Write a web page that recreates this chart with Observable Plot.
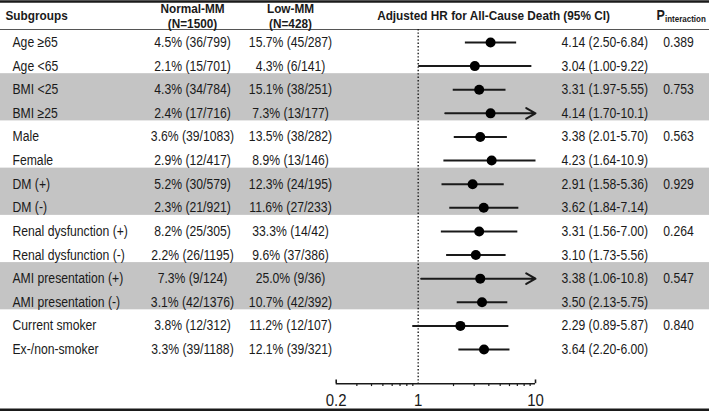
<!DOCTYPE html>
<html><head><meta charset="utf-8">
<script src="https://cdn.jsdelivr.net/npm/d3@7"></script>
<script src="https://cdn.jsdelivr.net/npm/@observablehq/plot@0.6"></script>
<style>body{margin:0;background:#fff}</style>
</head><body><div id="chart"></div>
<script>
const subgroups = ["Age ≥65","Age <65","BMI <25","BMI ≥25","Male","Female","DM (+)","DM (-)","Renal dysfunction (+)","Renal dysfunction (-)","AMI presentation (+)","AMI presentation (-)","Current smoker","Ex-/non-smoker"];
const normalMM = ["4.5% (36/799)","2.1% (15/701)","4.3% (34/784)","2.4% (17/716)","3.6% (39/1083)","2.9% (12/417)","5.2% (30/579)","2.3% (21/921)","8.2% (25/305)","2.2% (26/1195)","7.3% (9/124)","3.1% (42/1376)","3.8% (12/312)","3.3% (39/1188)"];
const lowMM = ["15.7% (45/287)","4.3% (6/141)","15.1% (38/251)","7.3% (13/177)","13.5% (38/282)","8.9% (13/146)","12.3% (24/195)","11.6% (27/233)","33.3% (14/42)","9.6% (37/386)","25.0% (9/36)","10.7% (42/392)","11.2% (12/107)","12.1% (39/321)"];
const hr = [4.14,3.04,3.31,4.14,3.38,4.23,2.91,3.62,3.31,3.10,3.38,3.50,2.29,3.64];
const lo = [2.50,1.00,1.97,1.70,2.01,1.64,1.58,1.84,1.56,1.73,1.06,2.13,0.89,2.20];
const hi = [6.84,9.22,5.55,10.1,5.70,10.9,5.36,7.14,7.00,5.56,10.8,5.75,5.87,6.00];
const hrLabels = ["4.14 (2.50-6.84)","3.04 (1.00-9.22)","3.31 (1.97-5.55)","4.14 (1.70-10.1)","3.38 (2.01-5.70)","4.23 (1.64-10.9)","2.91 (1.58-5.36)","3.62 (1.84-7.14)","3.31 (1.56-7.00)","3.10 (1.73-5.56)","3.38 (1.06-10.8)","3.50 (2.13-5.75)","2.29 (0.89-5.87)","3.64 (2.20-6.00)"];
const pInteraction = ["0.389","","0.753","","0.563","","0.929","","0.264","","0.547","","0.840",""];
const arrowRows = ["BMI ≥25","AMI presentation (+)"];
const shadedStart = [2,6,10];
const majorTicks = [0.2,1,10];
const minorTicks = [0.3,0.4,0.5,0.6,0.7,0.8,0.9,2,3,4,5,6,7,8,9];
const headers = {sub:"Subgroups", n1:"Normal-MM", n2:"(N=1500)", l1:"Low-MM", l2:"(N=428)", hr:"Adjusted HR for All-Cause Death (95% CI)", p:"P", psub:"interaction"};

const xMin = 0.2, xMax = 10;
const rows = subgroups.map((s,i)=>({i, s, n:normalMM[i], l:lowMM[i], hr:hr[i], lo:lo[i], hi:hi[i], lab:hrLabels[i], p:pInteraction[i], arrow:arrowRows.includes(s)}));
const F = "'Liberation Sans',Arial,Helvetica,sans-serif";
const ink = "#1a1a1a";
const axisRow = 14.45, tickRow = 15.17, headTop = -1.74, headLine = -0.55, bottomLine = 15.55;
const fs = 12.2, hs = 11.8;

const chart = Plot.plot({
  width:709, height:411, margin:0,
  style:{fontFamily:F, background:"#fff", color:ink},
  x:{type:"log", domain:[xMin,xMax], range:[335.7,535], axis:null},
  y:{type:"linear", domain:[0,13], range:[42,349], axis:null},
  marks:[
    Plot.rect(shadedStart, {y1:d=>d-0.68, y2:d=>d+1.32, fill:"#c4c4c4"}),
    Plot.ruleY([headTop], {stroke:ink, strokeWidth:2.5}),
    Plot.ruleY([headLine], {stroke:"#555", strokeWidth:1}),
    Plot.ruleY([bottomLine], {stroke:ink, strokeWidth:2.5}),
    Plot.ruleX([1], {y1:headLine, y2:axisRow, stroke:ink, strokeWidth:1.4, strokeDasharray:"1.4,2"}),
    // axis
    Plot.ruleY([axisRow], {x1:xMin, x2:xMax, stroke:ink, strokeWidth:1.6}),
    Plot.ruleX(minorTicks, {y1:axisRow, y2:axisRow+0.12, stroke:ink, strokeWidth:1.2}),
    Plot.ruleX([xMin,xMax], {y1:axisRow-0.16, y2:axisRow, stroke:ink, strokeWidth:1.6}),
    Plot.text(majorTicks, {x:d=>d, y:tickRow, text:d=>String(d), fontSize:15, fill:ink}),
    // CIs
    Plot.link(rows.filter(d=>!d.arrow), {x1:"lo", x2:d=>Math.min(d.hi,xMax), y1:"i", y2:"i", stroke:ink, strokeWidth:2}),
    Plot.arrow(rows.filter(d=>d.arrow), {x1:"lo", x2:d=>Math.min(d.hi,xMax), y1:"i", y2:"i", stroke:ink, strokeWidth:2, headLength:8, bend:0}),
    Plot.dot(rows, {x:"hr", y:"i", r:5, fill:"#000", stroke:"none"}),
    // table text
    Plot.text(rows, {y:"i", text:"s", frameAnchor:"left", dx:12, textAnchor:"start", fontSize:fs, fill:ink}),
    Plot.text(rows, {y:"i", text:"n", frameAnchor:"left", dx:192, textAnchor:"middle", fontSize:fs, fill:ink}),
    Plot.text(rows, {y:"i", text:"l", frameAnchor:"left", dx:290, textAnchor:"middle", fontSize:fs, fill:ink}),
    Plot.text(rows, {y:"i", text:"lab", frameAnchor:"left", dx:561, textAnchor:"start", fontSize:fs, fill:ink}),
    Plot.text(rows, {y:"i", text:"p", frameAnchor:"left", dx:678, textAnchor:"middle", fontSize:fs, fill:ink}),
    // headers
    Plot.text([headers.sub], {y:-1.143, text:d=>d, frameAnchor:"left", dx:5, textAnchor:"start", fontSize:hs, fontWeight:"bold", fill:ink}),
    Plot.text([headers.n1], {y:-1.427, text:d=>d, frameAnchor:"left", dx:192, textAnchor:"middle", fontSize:hs, fontWeight:"bold", fill:ink}),
    Plot.text([headers.n2], {y:-0.805, text:d=>d, frameAnchor:"left", dx:192, textAnchor:"middle", fontSize:hs, fontWeight:"bold", fill:ink}),
    Plot.text([headers.l1], {y:-1.427, text:d=>d, frameAnchor:"left", dx:290, textAnchor:"middle", fontSize:hs, fontWeight:"bold", fill:ink}),
    Plot.text([headers.l2], {y:-0.805, text:d=>d, frameAnchor:"left", dx:290, textAnchor:"middle", fontSize:hs, fontWeight:"bold", fill:ink}),
    Plot.text([headers.hr], {y:-1.143, text:d=>d, frameAnchor:"left", dx:493, textAnchor:"middle", fontSize:hs, fontWeight:"bold", fill:ink}),
    Plot.text([headers.p], {y:-1.143, text:d=>d, frameAnchor:"left", dx:656, textAnchor:"start", fontSize:12.5, fontWeight:"bold", fill:ink}),
    Plot.text([headers.psub], {y:-1.143, text:d=>d, frameAnchor:"left", dx:664.5, dy:4, textAnchor:"start", fontSize:8, fontWeight:"bold", fill:ink})
  ]
});
// the reference's lettering is slightly taller than it is wide: stretch each text vertically about its anchor
chart.querySelectorAll("text").forEach(t => {
  const tr = t.getAttribute("transform");
  if (tr && tr.includes("translate")) t.setAttribute("transform", tr + " scale(1,1.15)");
});
document.getElementById("chart").appendChild(chart);
</script>
</body></html>
